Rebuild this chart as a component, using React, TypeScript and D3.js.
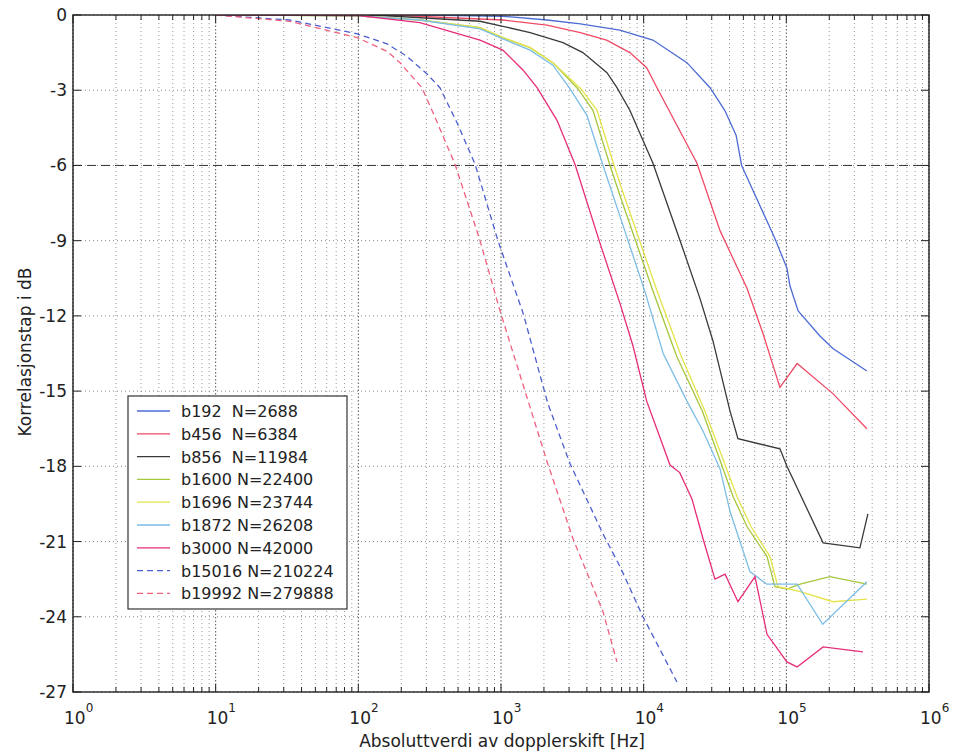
import React from 'react';
import * as d3 from 'd3';

// legend text
const seriesNames = ['b192', 'b456', 'b856', 'b1600', 'b1696', 'b1872', 'b3000', 'b15016', 'b19992'];
const seriesN = [2688, 6384, 11984, 22400, 23744, 26208, 42000, 210224, 279888];

// [doppler Hz, dB]
const b192 = [[10, 0], [300, 0], [1030, -0.05], [2100, -0.2], [3600, -0.35], [6800, -0.6], [11600, -1.0], [20100, -1.9], [29200, -2.9], [37000, -3.8], [44500, -4.8], [48600, -6.0], [58400, -7.0], [83000, -8.9], [101000, -10.1], [106000, -10.8], [121000, -11.8], [172000, -12.8], [212000, -13.3], [367000, -14.2]];
const b456 = [[10, 0], [200, -0.02], [1030, -0.2], [2100, -0.4], [3600, -0.7], [5500, -1.0], [8000, -1.5], [10500, -2.1], [12400, -2.9], [23600, -5.9], [34300, -8.6], [53000, -10.9], [68600, -12.7], [90200, -14.85], [119000, -13.9], [212000, -15.1], [367000, -16.5]];
const b856 = [[10, 0], [150, -0.02], [713, -0.25], [1030, -0.45], [1600, -0.7], [2720, -1.1], [3750, -1.5], [5530, -2.3], [6500, -2.9], [8000, -3.8], [11600, -5.9], [18000, -9.0], [24800, -11.3], [30600, -13.0], [40300, -15.8], [45800, -16.9], [90200, -17.3], [101000, -18.0], [181000, -21.05], [328000, -21.25], [373000, -19.9]];
const b1600 = [[10, 0], [98, -0.03], [270, -0.2], [713, -0.5], [1030, -0.9], [1600, -1.3], [2310, -1.9], [3470, -2.95], [4410, -3.8], [5810, -6.0], [6820, -7.2], [11600, -11.0], [17000, -13.6], [25800, -15.8], [42300, -19.2], [53000, -20.4], [73200, -21.6], [83200, -22.8], [101000, -22.9], [125000, -22.7], [202000, -22.4], [367000, -22.7]];
const b1696 = [[10, 0], [98, -0.03], [270, -0.2], [713, -0.5], [1030, -0.9], [1600, -1.3], [2310, -1.9], [3640, -2.95], [4710, -3.8], [6200, -6.0], [7280, -7.2], [12400, -11.0], [18300, -13.6], [26900, -15.8], [45100, -19.2], [56500, -20.4], [76800, -21.6], [87300, -22.8], [106000, -22.9], [125000, -23.0], [212000, -23.4], [367000, -23.3]];
const b1872 = [[10, 0], [98, -0.03], [270, -0.2], [713, -0.55], [1030, -0.95], [1600, -1.4], [2310, -2.0], [3050, -2.95], [4000, -4.0], [5190, -6.0], [6800, -8.0], [10300, -11.1], [13700, -13.5], [20100, -15.4], [26100, -16.6], [34300, -18.1], [40300, -19.8], [55600, -22.2], [73000, -22.7], [119000, -22.7], [180000, -24.3], [367000, -22.6]];
const b3000 = [[10, 0], [100, -0.02], [270, -0.3], [713, -1.0], [1030, -1.4], [1430, -2.2], [1790, -2.9], [2470, -4.2], [3300, -5.95], [4940, -9.1], [6820, -11.5], [8420, -13.2], [10500, -15.4], [15300, -17.95], [17900, -18.25], [21800, -19.3], [26100, -20.9], [31600, -22.5], [37200, -22.3], [45800, -23.4], [60300, -22.4], [73200, -24.7], [101000, -25.8], [119000, -26.0], [181000, -25.2], [344000, -25.4]];
const b15016 = [[10, 0], [33, -0.2], [98, -0.75], [159, -1.15], [219, -1.65], [303, -2.35], [373, -2.9], [492, -4.3], [658, -5.95], [952, -9.0], [1430, -11.9], [2130, -15.5], [3050, -17.9], [5190, -20.7], [6830, -22.0], [9890, -24.0], [17100, -26.6]];
const b19992 = [[10, 0], [33, -0.25], [98, -0.9], [159, -1.45], [196, -1.9], [242, -2.5], [279, -2.9], [334, -3.9], [476, -5.95], [713, -9.0], [984, -11.8], [1550, -15.4], [2100, -17.8], [3200, -20.9], [5190, -23.8], [6500, -25.8]];

const seriesData = [b192, b456, b856, b1600, b1696, b1872, b3000, b15016, b19992];

const seriesColor = ['#4c6cd4', '#f04a66', '#3a3a3a', '#a6c63c', '#e4e44a', '#7cbde6', '#e62c78', '#4c5ed0', '#f0607e'];
const seriesDash = [null, null, null, null, null, null, null, '6,4', '6,4'];

const xDecades = [0, 1, 2, 3, 4, 5, 6];
const yTicks = [0, -3, -6, -9, -12, -15, -18, -21, -24, -27];
const refLevel = -6;

const W = 956;
const H = 754;
const m = { left: 73, right: 27, top: 15, bottom: 62 };
const font = '"DejaVu Sans", Verdana, sans-serif';

export default function App() {
  const x = d3.scaleLog().domain([1, 1e6]).range([m.left, W - m.right]);
  const y = d3.scaleLinear().domain([-27, 0]).range([H - m.bottom, m.top]);
  const line = d3.line<number[]>().x(d => x(d[0])).y(d => y(d[1]));

  const allTicks = x.ticks();
  const isMajor = (v: number) => Math.abs(Math.log10(v) - Math.round(Math.log10(v))) < 1e-9;

  const x0 = m.left, x1 = W - m.right, y0 = m.top, y1 = H - m.bottom;

  return (
    <svg width={W} height={H} style={{ position: 'absolute', left: 0, top: 0, background: '#fff' }}>
      <defs>
        <clipPath id="plot">
          <rect x={x0} y={y0} width={x1 - x0} height={y1 - y0} />
        </clipPath>
      </defs>
      <rect x={0} y={0} width={W} height={H} fill="#fff" />

      {/* grid */}
      <g strokeWidth={1} fill="none">
        {allTicks.map((t, i) => (
          <line key={'gx' + i} x1={x(t)} x2={x(t)} y1={y0} y2={y1}
            strokeDasharray={isMajor(t) ? '1.5,2' : '1,3'}
            stroke={isMajor(t) ? '#555' : '#9a9a9a'} />
        ))}
        {yTicks.map((t, i) => (
          <line key={'gy' + i} x1={x0} x2={x1} y1={y(t)} y2={y(t)} strokeDasharray="1,3" stroke="#888" />
        ))}
      </g>
      <line x1={x0} x2={x1} y1={y(refLevel)} y2={y(refLevel)} stroke="#333" strokeWidth={1} strokeDasharray="9,5" />

      {/* curves */}
      <g clipPath="url(#plot)" fill="none">
        {seriesData.map((s, i) => (
          <path key={'s' + i} d={line(s) || ''} stroke={seriesColor[i]} strokeWidth={1.3}
            strokeDasharray={seriesDash[i] || undefined} />
        ))}
      </g>

      {/* axes box and ticks */}
      <rect x={x0} y={y0} width={x1 - x0} height={y1 - y0} fill="none" stroke="#222" strokeWidth={1.4} />
      <g stroke="#222" strokeWidth={1}>
        {allTicks.map((t, i) => {
          const len = isMajor(t) ? 8 : 5;
          return (
            <g key={'tx' + i}>
              <line x1={x(t)} x2={x(t)} y1={y1} y2={y1 - len} />
              <line x1={x(t)} x2={x(t)} y1={y0} y2={y0 + len} />
            </g>
          );
        })}
        {yTicks.map((t, i) => (
          <g key={'ty' + i}>
            <line x1={x0} x2={x0 + 8} y1={y(t)} y2={y(t)} />
            <line x1={x1} x2={x1 - 8} y1={y(t)} y2={y(t)} />
          </g>
        ))}
      </g>

      {/* tick labels */}
      <g fontFamily={font} fontSize={17} fill="#222">
        {yTicks.map((t, i) => (
          <text key={'ly' + i} x={x0 - 6} y={y(t) + 6} textAnchor="end">{t === 0 ? '0' : '-' + Math.abs(t)}</text>
        ))}
        {xDecades.map(e => (
          <text key={'lx' + e} x={x(Math.pow(10, e)) - 9} y={y1 + 32}>
            10<tspan dy={-12} fontSize={12}>{e}</tspan>
          </text>
        ))}
      </g>

      {/* axis titles */}
      <text x={502} y={747} textAnchor="middle" fontFamily={font} fontSize={17} fill="#222">
        Absoluttverdi av dopplerskift [Hz]
      </text>
      <text transform={`translate(31,352) rotate(-90)`} textAnchor="middle" fontFamily={font} fontSize={17} fill="#222">
        Korrelasjonstap i dB
      </text>

      {/* legend */}
      <g>
        <rect x={128} y={396} width={219} height={213} fill="#fff" stroke="#333" strokeWidth={1.2} />
        {seriesNames.map((n, i) => {
          const ly = 411 + i * 22.8;
          return (
            <g key={'lg' + i}>
              <line x1={137} x2={170} y1={ly} y2={ly} stroke={seriesColor[i]} strokeWidth={1.3}
                strokeDasharray={seriesDash[i] || undefined} />
              <text x={181} y={ly + 6} fontFamily={font} fontSize={16} fill="#222" style={{ whiteSpace: 'pre' }}>
                {n.padEnd(5, ' ') + ' N=' + seriesN[i]}
              </text>
            </g>
          );
        })}
      </g>
    </svg>
  );
}
